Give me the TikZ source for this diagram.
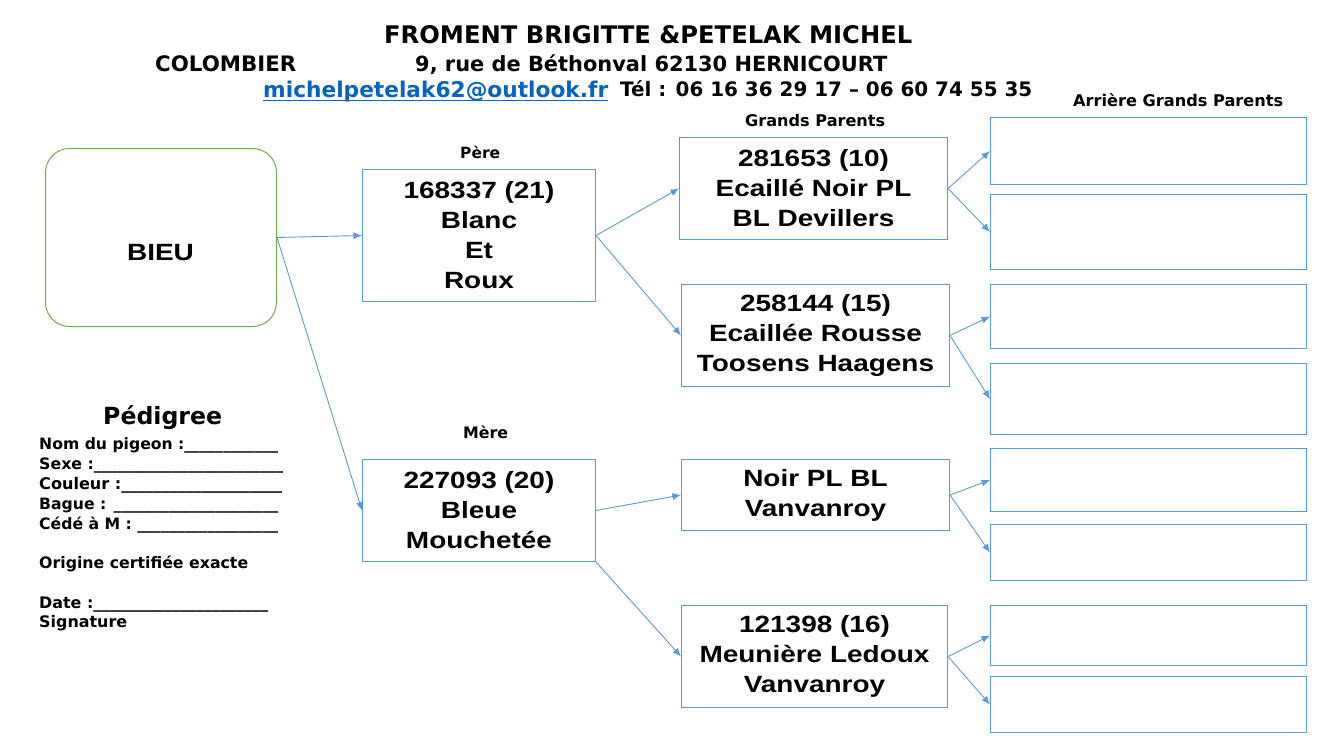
\documentclass[tikz,border=0pt]{standalone}
\usepackage{graphicx}
\usepackage{fontspec}
\setmainfont{Liberation Sans}
\newfontfamily\boxfont{Liberation Sans}[FakeStretch=1.19]
\newfontfamily\decofont{DejaVu Sans}
\usetikzlibrary{arrows.meta}
\definecolor{boxblue}{RGB}{91,155,213}
\definecolor{linkblue}{RGB}{5,99,193}
\definecolor{bieugreen}{RGB}{112,173,71}
\newcommand{\fitw}[2]{\resizebox{#1pt}{!}{#2}}
\begin{document}
\begin{tikzpicture}[x=1pt,y=-1pt,
  box/.style={draw=boxblue, line width=1pt, rectangle, anchor=north west, inner sep=0pt, align=center,
    font=\boxfont\bfseries\fontsize{23.5}{30}\selectfont},
  agpbox/.style={draw=boxblue, line width=1pt, rectangle, anchor=north west, inner sep=0pt},
  bieubox/.style={draw=bieugreen, line width=1pt, rectangle, rounded corners=24pt, anchor=north west, inner sep=0pt},
  boxtext/.style={inner sep=0pt, font=\boxfont\bfseries\fontsize{23.5}{30}\selectfont},
  link/.style={draw=boxblue, line width=0.9pt, -{Latex[length=8.5pt,width=7pt]}},
  deco/.style={inner sep=0pt, anchor=base west, font=\decofont\bfseries}
]
\fill[white] (0,0) rectangle (1329,741);
\useasboundingbox (0,0) rectangle (1329,741);

% header
\node[deco] (h1) at (384,44) {\fitw{528}{FROMENT BRIGITTE \&PETELAK MICHEL}};
\node[deco] (h2a) at (155,72) {\fitw{141}{COLOMBIER}};
\node[deco] (h2b) at (415,72) {\fitw{472}{9, rue de Béthonval 62130 HERNICOURT}};
\node[deco, text=linkblue] (h3a) at (263,97) {\fitw{345}{michelpetelak62@outlook.fr}};
\draw[linkblue, line width=1.6pt] ([yshift=-3.5pt]h3a.base west) -- ([yshift=-3.5pt]h3a.base east);
\node[deco] (h3b) at (620,97) {\fitw{412}{Tél : 06 16 36 29 17 – 06 60 74 55 35}};

% column labels
\node[deco] (lpere) at (460,158) {\fitw{40}{Père}};
\node[deco] (lmere) at (463,438) {\fitw{45}{Mère}};
\node[deco] (lgp) at (745,127) {\fitw{140}{Grands Parents}};
\node[deco] (lagp) at (1073,107) {\fitw{210}{Arrière Grands Parents}};

% pedigree block
\node[deco] (ped) at (103,424) {\fitw{119}{Pédigree}};
\node[deco] (f1) at (39,449) {\fitw{239}{Nom du pigeon :\_\_\_\_\_\_\_\_\_\_\_\_}};
\node[deco] (f2) at (39,469) {\fitw{244}{Sexe :\_\_\_\_\_\_\_\_\_\_\_\_\_\_\_\_\_\_\_\_\_\_\_\_}};
\node[deco] (f3) at (39,489) {\fitw{243}{Couleur :\_\_\_\_\_\_\_\_\_\_\_\_\_\_\_\_\_\_\_\_}};
\node[deco] (f4) at (39,509) {\fitw{239}{Bague : \_\_\_\_\_\_\_\_\_\_\_\_\_\_\_\_\_\_\_\_\_}};
\node[deco] (f5) at (39,529) {\fitw{239}{Cédé à M : \_\_\_\_\_\_\_\_\_\_\_\_\_\_\_\_\_\_}};
\node[deco] (f6) at (39,568) {\fitw{209}{Origine certifiée exacte}};
\node[deco] (f7) at (39,608) {\fitw{229}{Date :\_\_\_\_\_\_\_\_\_\_\_\_\_\_\_\_\_\_\_\_\_\_}};
\node[deco] (f8) at (39,627) {\fitw{88}{Signature}};

% subject
\node[bieubox, minimum width=231pt, minimum height=178pt] (bieu) at (45,148) {};
\node[boxtext] (bieutext) at (160.5,253) {BIEU};

% parents
\node[box, minimum width=233pt, minimum height=132pt] (pere) at (362,169) {168337 (21)\\Blanc\\Et\\Roux};
\node[box, minimum width=233pt, minimum height=102pt] (mere) at (362,459) {227093 (20)\\Bleue\\Mouchetée};

% grandparents
\node[box, minimum width=268pt, minimum height=102pt] (gp1) at (679,137) {281653 (10)\\Ecaillé Noir PL\\BL Devillers};
\node[box, minimum width=268pt, minimum height=102pt] (gp2) at (681,284) {258144 (15)\\Ecaillée Rousse\\Toosens Haagens};
\node[box, minimum width=268pt, minimum height=71pt] (gp3) at (681,459) {Noir PL BL\\Vanvanroy};
\node[box, minimum width=266pt, minimum height=102pt] (gp4) at (681,605) {121398 (16)\\Meunière Ledoux\\Vanvanroy};

% great-grandparents
\node[agpbox, minimum width=316pt, minimum height=67pt] (a1) at (990,117) {};
\node[agpbox, minimum width=316pt, minimum height=75pt] (a2) at (990,194) {};
\node[agpbox, minimum width=316pt, minimum height=64pt] (a3) at (990,284) {};
\node[agpbox, minimum width=316pt, minimum height=71pt] (a4) at (990,363) {};
\node[agpbox, minimum width=316pt, minimum height=63pt] (a5) at (990,448) {};
\node[agpbox, minimum width=316pt, minimum height=56pt] (a6) at (990,524) {};
\node[agpbox, minimum width=316pt, minimum height=60pt] (a7) at (990,605) {};
\node[agpbox, minimum width=316pt, minimum height=56pt] (a8) at (990,676) {};

% connectors
\draw[link] (bieu.east) -- (pere.west);
\draw[link] (bieu.east) -- (mere.west);
\draw[link] (pere.east) -- (gp1.west);
\draw[link] (pere.east) -- (gp2.west);
\draw[link] (mere.east) -- (gp3.west);
\draw[link] (mere.south east) -- (gp4.west);
\draw[link] (gp1.east) -- (a1.west);
\draw[link] (gp1.east) -- (a2.west);
\draw[link] (gp2.east) -- (a3.west);
\draw[link] (gp2.east) -- (a4.west);
\draw[link] (gp3.east) -- (a5.west);
\draw[link] (gp3.east) -- (a6.west);
\draw[link] (gp4.east) -- (a7.west);
\draw[link] (gp4.east) -- (a8.west);
\end{tikzpicture}
\end{document}
